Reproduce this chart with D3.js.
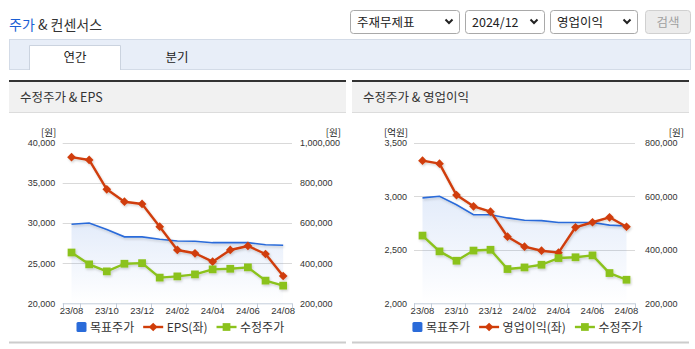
<!DOCTYPE html>
<html><head><meta charset="utf-8">
<script src="https://cdn.jsdelivr.net/npm/d3@7"></script>
<style>
body{margin:0;width:695px;height:349px;overflow:hidden;background:#fff;}
svg{display:block;font-family:"Noto Sans CJK KR","Noto Sans",sans-serif;}
.num{font-family:"Liberation Sans",Arial,sans-serif;}
</style></head><body>
<svg id="c" width="695" height="349"></svg>
<script>
const months = ["23/08","23/09","23/10","23/11","23/12","24/01","24/02","24/03","24/04","24/05","24/06","24/07","24/08"];
const xTickLabels = ["23/08","23/10","23/12","24/02","24/04","24/06","24/08"];
const targetPrice = [594000,600000,568000,531000,531000,519000,510000,509000,502000,502000,502000,492000,489000];
const adjPrice = [453000,394000,359000,397000,400000,328000,334000,344000,369000,372000,379000,313000,288000];
const eps = [38200,37850,34200,32650,32370,29540,26640,26230,25180,26640,27140,26140,23400];
const opIncome = [3332,3304,3011,2906,2856,2622,2529,2491,2473,2710,2757,2803,2715];
const epsTicks = [20000,25000,30000,35000,40000];
const priceTicksA = [200000,400000,600000,800000,1000000];
const opTicks = [2000,2500,3000,3500];
const priceTicksB = [200000,400000,600000,800000];

const BLUE="#2a6bd9", RED="#d03d09", GREEN="#8bc21c";
const svg = d3.select("#c");
const defs = svg.append("defs");
const grad = defs.append("linearGradient").attr("id","ag").attr("x1",0).attr("y1",0).attr("x2",0).attr("y2",1);
grad.append("stop").attr("offset","0%").attr("stop-color","#2a6bd9").attr("stop-opacity",0.13);
grad.append("stop").attr("offset","100%").attr("stop-color","#2a6bd9").attr("stop-opacity",0.0);
const sh = defs.append("filter").attr("id","sh").attr("x","-10%").attr("y","-10%").attr("width","130%").attr("height","130%");
sh.append("feDropShadow").attr("dx",1).attr("dy",1.5).attr("stdDeviation",1).attr("flood-color","#000").attr("flood-opacity",0.18);

// ---- header ----
const ht = svg.append("text").attr("x",9).attr("y",30).attr("font-size",14);
ht.append("tspan").attr("fill","#1b5fd4").text("주가");
ht.append("tspan").attr("fill","#333").text(" & 컨센서스");

function selectBox(x,w,label){
  const g=svg.append("g");
  g.append("rect").attr("x",x+0.5).attr("y",10.5).attr("width",w).attr("height",23).attr("rx",3)
    .attr("fill","#fff").attr("stroke","#a9a9a9");
  g.append("text").attr("x",x+7).attr("y",26.5).attr("font-size",12.5).attr("fill","#222").text(label);
  const cx=x+w-10;
  g.append("path").attr("d",`M${cx-3.5},19.5 L${cx},23 L${cx+3.5},19.5`).attr("fill","none").attr("stroke","#222").attr("stroke-width",2);
}
selectBox(350,109,"주재무제표");
selectBox(465,79,"2024/12");
selectBox(550,87,"영업이익");
svg.append("rect").attr("x",645.5).attr("y",10.5).attr("width",45).attr("height",23).attr("rx",3).attr("fill","#ececec").attr("stroke","#d0d0d0");
svg.append("text").attr("x",668).attr("y",26.5).attr("text-anchor","middle").attr("font-size",12.5).attr("fill","#a0a0a0").text("검색");

// tabs
svg.append("rect").attr("x",9.5).attr("y",39.5).attr("width",681).attr("height",30).attr("fill","#e8eef8").attr("stroke","#d3dbe7");
svg.append("rect").attr("x",29.5).attr("y",45.5).attr("width",91).attr("height",25).attr("fill","#fff");
svg.append("path").attr("d","M29.5,70 V45.5 H120.5 V70").attr("fill","none").attr("stroke","#cbd3df");
svg.append("text").attr("x",75).attr("y",62).attr("text-anchor","middle").attr("font-size",12.5).attr("fill","#222").text("연간");
svg.append("text").attr("x",177).attr("y",62).attr("text-anchor","middle").attr("font-size",12.5).attr("fill","#222").text("분기");

function panel(px,pw,title){
  svg.append("rect").attr("x",px).attr("y",80).attr("width",pw).attr("height",2).attr("fill","#333");
  svg.append("rect").attr("x",px).attr("y",82).attr("width",pw).attr("height",30).attr("fill","#f1f1f1");
  svg.append("rect").attr("x",px).attr("y",112).attr("width",pw).attr("height",1).attr("fill","#dcdcdc");
  svg.append("text").attr("x",px+11).attr("y",101.5).attr("font-size",12.5).attr("fill","#333").text(title);
  svg.append("rect").attr("x",px).attr("y",341.5).attr("width",pw).attr("height",2).attr("fill","#cccccc");
}
panel(9,337,"수정주가 & EPS");
panel(352,337,"수정주가 & 영업이익");

function chart(o){
  const g=svg.append("g");
  const yT=142.7, yB=303.3;
  const x=d3.scaleBand().domain(months).range([o.x0,o.x1]).padding(0);
  const cx=d=>x(d)+x.bandwidth()/2;
  const yL=d3.scaleLinear().domain(d3.extent(o.lTicks)).range([yB,yT]);
  const yR=d3.scaleLinear().domain(d3.extent(o.rTicks)).range([yB,yT]);
  // grid
  g.selectAll("line.grid").data(o.lTicks.slice(1)).join("line")
    .attr("x1",o.x0).attr("x2",o.x1).attr("y1",d=>Math.round(yL(d))+0.5).attr("y2",d=>Math.round(yL(d))+0.5)
    .attr("stroke","#d9d9d9");
  // left axis labels
  const al=g.append("g").attr("class","num").attr("transform",`translate(${o.x0},0)`)
    .call(d3.axisLeft(yL).tickValues(o.lTicks).tickSize(0).tickPadding(o.padL).tickFormat(d3.format(",")));
  al.select(".domain").remove();
  al.selectAll("text").attr("font-size",9).attr("fill","#333").attr("font-family","Liberation Sans, Arial, sans-serif");
  const ar=g.append("g").attr("class","num").attr("transform",`translate(${o.x1},0)`)
    .call(d3.axisRight(yR).tickValues(o.rTicks).tickSize(0).tickPadding(o.padR).tickFormat(d3.format(",")));
  ar.select(".domain").remove();
  ar.selectAll("text").attr("font-size",9).attr("fill","#333").attr("font-family","Liberation Sans, Arial, sans-serif");
  // units
  g.append("text").attr("x",o.x0-o.padL+1).attr("y",135.5).attr("text-anchor","end").attr("font-size",9.5).attr("fill","#222").text(o.unitL);
  g.append("text").attr("x",o.unitRX).attr("y",135.5).attr("text-anchor","end").attr("font-size",9.5).attr("fill","#222").text("[원]");
  // x axis
  const ax=g.append("g").attr("transform",`translate(0,${yB})`)
    .call(d3.axisBottom(x).tickValues(xTickLabels).tickSize(0).tickPadding(4));
  ax.select(".domain").remove();
  ax.selectAll("text").attr("font-size",9.5).attr("fill","#333").attr("font-family","Liberation Sans, Arial, sans-serif");
  g.append("line").attr("x1",o.x0).attr("x2",o.x1).attr("y1",yB+0.5).attr("y2",yB+0.5).attr("stroke","#c3cddb");
  const tickPos=[o.x0].concat(xTickLabels.map(d=>x(d)+x.step()));
  g.selectAll("line.tk").data(tickPos).join("line")
    .attr("x1",d=>Math.round(d)+0.5).attr("x2",d=>Math.round(d)+0.5).attr("y1",yB).attr("y2",yB+5).attr("stroke","#c3cddb");
  // area + target line
  const idx=months.map((m,i)=>i);
  g.append("path").datum(idx).attr("fill","url(#ag)")
    .attr("d",d3.area().x(i=>cx(months[i])).y0(yB).y1(i=>yR(targetPrice[i])));
  g.append("path").datum(idx).attr("fill","none").attr("stroke",BLUE).attr("stroke-width",1.6).attr("filter","url(#sh)")
    .attr("d",d3.line().x(i=>cx(months[i])).y(i=>yR(targetPrice[i])));
  // red series (left axis)
  const rg=g.append("g").attr("filter","url(#sh)");
  rg.append("path").datum(idx).attr("fill","none").attr("stroke",RED).attr("stroke-width",2.4).attr("stroke-linejoin","round")
    .attr("d",d3.line().x(i=>cx(months[i])).y(i=>yL(o.leftSeries[i])));
  rg.selectAll("path.m").data(idx).join("path").attr("class","m")
    .attr("transform",i=>`translate(${cx(months[i])},${yL(o.leftSeries[i])}) rotate(45)`)
    .attr("d",d3.symbol(d3.symbolSquare,38)()).attr("fill",RED);
  // green series
  const gg=g.append("g").attr("filter","url(#sh)");
  gg.append("path").datum(idx).attr("fill","none").attr("stroke",GREEN).attr("stroke-width",2.4).attr("stroke-linejoin","round")
    .attr("d",d3.line().x(i=>cx(months[i])).y(i=>yR(adjPrice[i])));
  gg.selectAll("path.m").data(idx).join("path").attr("class","m")
    .attr("transform",i=>`translate(${cx(months[i])},${yR(adjPrice[i])})`)
    .attr("d",d3.symbol(d3.symbolSquare,60)()).attr("fill",GREEN);
  // legend
  const items=[{t:"목표주가",k:"box",c:BLUE},{t:o.leftName,k:"dia",c:RED},{t:"수정주가",k:"sq",c:GREEN}];
  const lg=g.append("g");
  let cur=0; const ly=327;
  items.forEach((it,n)=>{
    const sw = it.k==="box"?10:20;
    const ig=lg.append("g").attr("transform",`translate(${cur},0)`);
    if(it.k==="box"){
      ig.append("rect").attr("x",0).attr("y",ly-5).attr("width",10).attr("height",10).attr("rx",1.5).attr("fill",it.c);
    } else {
      ig.append("line").attr("x1",0).attr("x2",sw).attr("y1",ly).attr("y2",ly).attr("stroke",it.c).attr("stroke-width",2.4);
      ig.append("path").attr("transform",`translate(${sw/2},${ly})`+(it.k==="dia"?" rotate(45)":""))
        .attr("d",d3.symbol(d3.symbolSquare,it.k==="dia"?38:60)()).attr("fill",it.c);
    }
    const tx=ig.append("text").attr("x",sw+3.5).attr("y",ly+4.5).attr("font-size",12).attr("fill","#333").text(it.t);
    cur += sw+3.5+tx.node().getComputedTextLength()+9;
  });
  const total=cur-9;
  lg.attr("transform",`translate(${(o.x0+o.x1)/2+3-total/2},0)`);
}
chart({x0:62.7,x1:292,lTicks:epsTicks,rTicks:priceTicksA,leftSeries:eps,leftName:"EPS(좌)",unitL:"[원]",unitRX:341,padL:7.5,padR:8});
chart({x0:414,x1:635,lTicks:opTicks,rTicks:priceTicksB,leftSeries:opIncome,leftName:"영업이익(좌)",unitL:"[억원]",unitRX:684,padL:7,padR:10});
</script>
</body></html>
